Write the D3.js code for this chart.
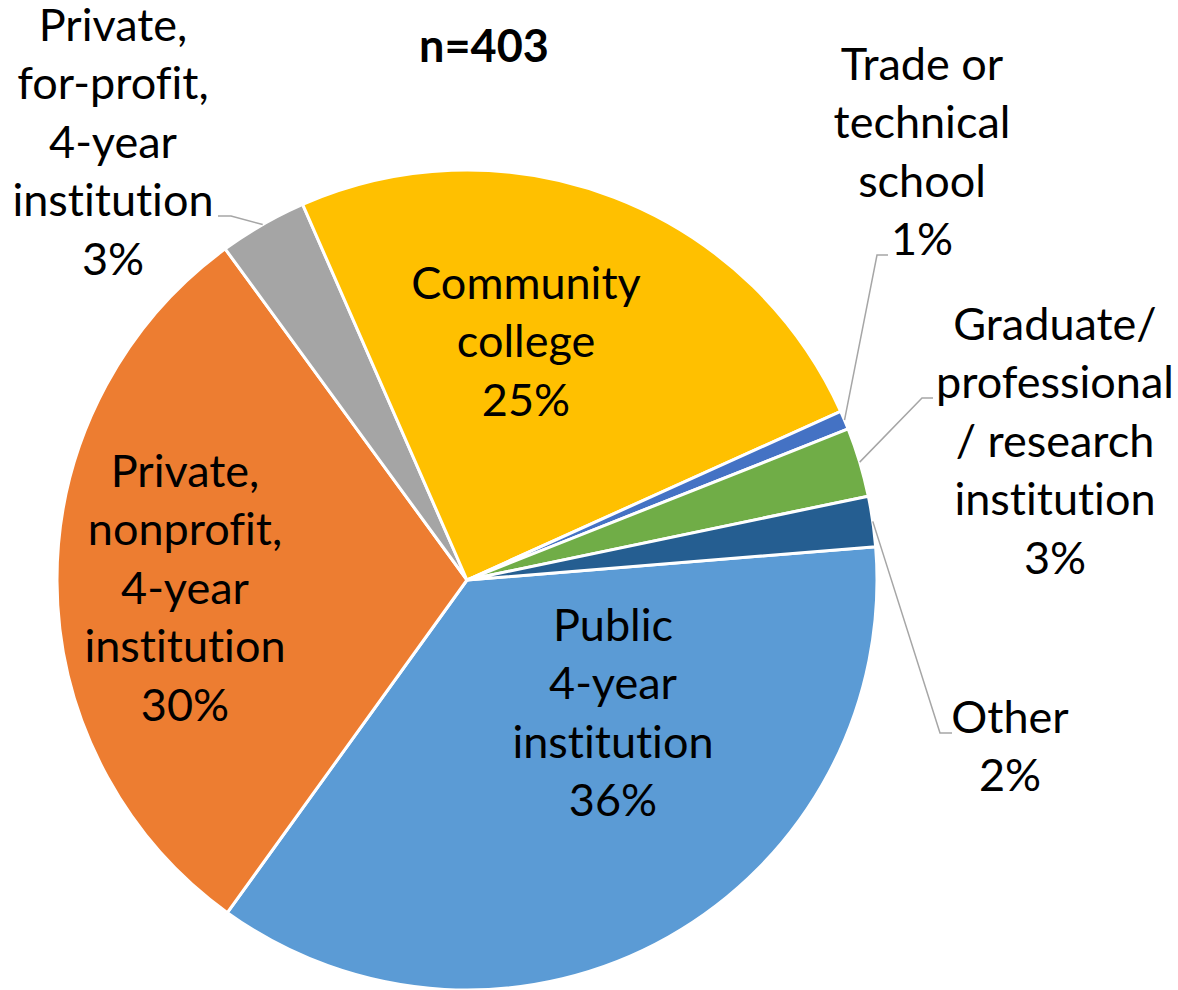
<!DOCTYPE html>
<html>
<head>
<meta charset="utf-8">
<script src="https://cdn.jsdelivr.net/npm/d3@7"></script>
<style>
  html, body { margin: 0; padding: 0; background: #fff; }
  svg { display: block; }
  text {
    font-family: Lato, "Open Sans", sans-serif;
    fill: #000;
    font-variant-ligatures: none;
    font-feature-settings: "liga" 0, "clig" 0;
  }
</style>
</head>
<body>
<svg id="chart" width="1178" height="990"></svg>
<script>
// Institution types (respondents, n = 403)
const categories = [
  "Public 4-year institution",
  "Private, nonprofit, 4-year institution",
  "Private, for-profit, 4-year institution",
  "Community college",
  "Trade or technical school",
  "Graduate/ professional / research institution",
  "Other"
];
const counts = [146, 121, 14, 100, 3, 11, 8];
const total = 403;

// How each category name wraps onto lines in its label
const labelLines = [
  ["Public", "4-year", "institution"],
  ["Private,", "nonprofit,", "4-year", "institution"],
  ["Private,", "for-profit,", "4-year", "institution"],
  ["Community", "college"],
  ["Trade or", "technical", "school"],
  ["Graduate/", "professional", "/ research", "institution"],
  ["Other"]
];

const colors = ["#5B9BD5", "#ED7D31", "#A5A5A5", "#FFC000", "#4472C4", "#70AD47", "#255E91"];

// Label placement: centre x, first baseline, and (for outside labels) the leader-line end
const labelLayout = [
  { x: 613, y: 641 },
  { x: 185, y: 487 },
  { x: 113, y: 41,  leader: [[218, 216], [231, 216]] },
  { x: 526, y: 299 },
  { x: 922, y: 80,  leader: [[888, 255], [877, 255]] },
  { x: 1055, y: 340, leader: [[933, 398], [922, 398]] },
  { x: 1010, y: 733, leader: [[952, 733], [940, 733]] }
];

const width = 1178, height = 990;
const cx = 467, cy = 580, radius = 410;
const lineH = 58.4;
const fontSize = 45;

const svg = d3.select("#chart");

const data = categories.map((c, i) => ({ name: c, value: counts[i], i }));

const startAngle = 85.35 * Math.PI / 180;
const pie = d3.pie()
  .value(d => d.value)
  .sort(null)
  .startAngle(startAngle)
  .endAngle(startAngle + 2 * Math.PI);

const arcs = pie(data);
const arc = d3.arc().innerRadius(0).outerRadius(radius);

const g = svg.append("g").attr("transform", `translate(${cx},${cy})`);

g.selectAll("path.slice")
  .data(arcs)
  .join("path")
  .attr("class", "slice")
  .attr("d", arc)
  .attr("fill", d => colors[d.data.i])
  .attr("stroke", "#fff")
  .attr("stroke-width", 3)
  .attr("stroke-linejoin", "round");

// Leader lines from the slice edge to the outside labels
const line = d3.line();
arcs.forEach(d => {
  const lay = labelLayout[d.data.i];
  if (!lay.leader) return;
  const mid = (d.startAngle + d.endAngle) / 2;
  const edge = [cx + radius * Math.sin(mid), cy - radius * Math.cos(mid)];
  const pts = [lay.leader[0], lay.leader[1], edge];
  svg.append("path")
    .attr("d", line(pts))
    .attr("fill", "none")
    .attr("stroke", "#A6A6A6")
    .attr("stroke-width", 1.5);
});

// Data labels: category name lines followed by the rounded share
const pct = d3.format(".0%");
arcs.forEach(d => {
  const i = d.data.i;
  const lay = labelLayout[i];
  const lines = labelLines[i].concat([pct(d.data.value / total)]);
  const t = svg.append("text")
    .attr("text-anchor", "middle")
    .attr("font-size", fontSize);
  lines.forEach((s, k) => {
    t.append("tspan")
      .attr("x", lay.x)
      .attr("y", lay.y + k * lineH)
      .text(s);
  });
});

// Sample size heading
svg.append("text")
  .attr("x", 484)
  .attr("y", 62)
  .attr("text-anchor", "middle")
  .attr("font-size", 45)
  .attr("font-weight", "bold")
  .text("n=" + total);
</script>
</body>
</html>
